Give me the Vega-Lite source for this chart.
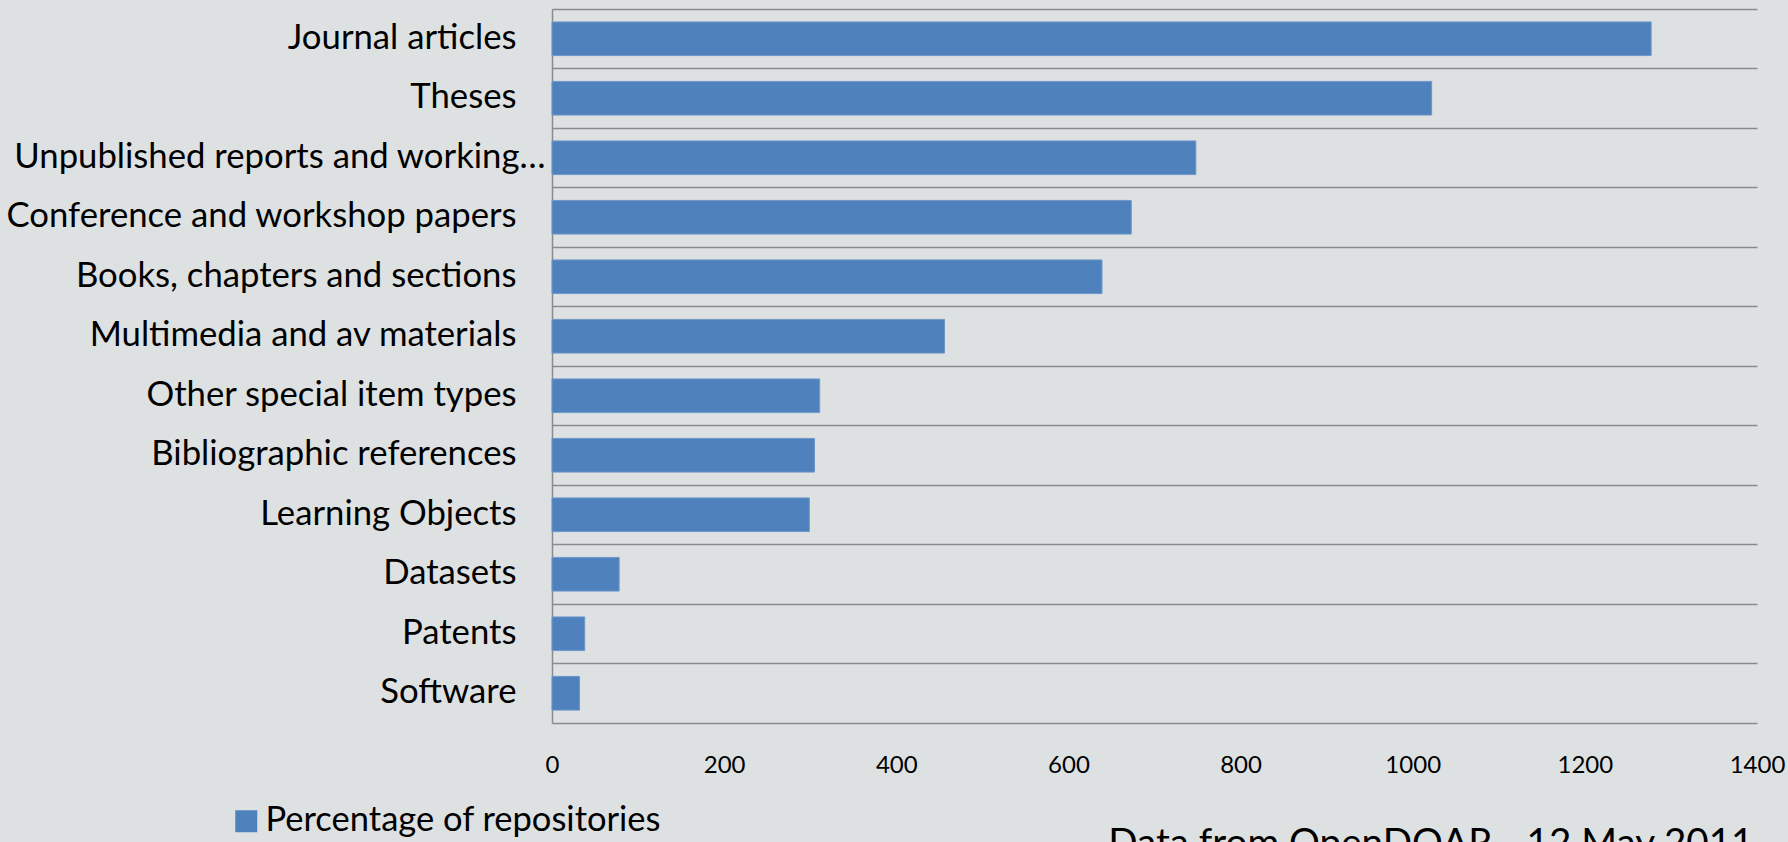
{
  "$schema": "https://vega.github.io/schema/vega-lite/v6.json",
  "width": 1205,
  "height": 714,
  "autosize": {"type": "none"},
  "padding": {"left": 552, "top": 9, "right": 31, "bottom": 119},
  "background": "#dee1e2",
  "data": {
    "values": [
      {"type": "Journal articles", "value": 1277},
      {"type": "Theses", "value": 1022},
      {"type": "Unpublished reports and working…", "value": 748},
      {"type": "Conference and workshop papers", "value": 673},
      {"type": "Books, chapters and sections", "value": 639},
      {"type": "Multimedia and av materials", "value": 456},
      {"type": "Other special item types", "value": 311},
      {"type": "Bibliographic references", "value": 305},
      {"type": "Learning Objects", "value": 299},
      {"type": "Datasets", "value": 78},
      {"type": "Patents", "value": 38},
      {"type": "Software", "value": 32}
    ]
  },
  "mark": {"type": "bar", "height": {"band": 0.566}, "stroke": "#6f97cb", "strokeWidth": 1},
  "encoding": {
    "y": {
      "field": "type",
      "type": "nominal",
      "sort": null,
      "scale": {"paddingInner": 0, "paddingOuter": 0},
      "axis": {
        "title": null,
        "bandPosition": 0,
        "grid": true,
        "gridColor": "#8a8a8a",
        "gridWidth": 1.5,
        "domain": true,
        "domainColor": "#8a8a8a",
        "domainWidth": 1.5,
        "ticks": false,
        "labelFont": "Lato",
        "labelFontSize": 34.7,
        "labelColor": "#000000",
        "labelPadding": {"condition": {"test": "datum.value === 'Unpublished reports and working…'", "value": 7}, "value": 36},
        "labelLimit": 0,
        "labelAlign": "right",
        "labelBaseline": "middle"
      }
    },
    "x": {
      "field": "value",
      "type": "quantitative",
      "scale": {"domain": [0, 1400], "nice": false},
      "axis": {
        "title": "Data from OpenDOAR - 12 May 2011",
        "titleFont": "Lato",
        "titleFontSize": 38.6,
        "titleFontWeight": "normal",
        "titleColor": "#000000",
        "titleAnchor": "end",
        "titleAlign": "right",
        "titleBaseline": "alphabetic",
        "titleX": 1201,
        "titleY": 132,
        "values": [0, 200, 400, 600, 800, 1000, 1200, 1400],
        "format": "d",
        "grid": false,
        "ticks": false,
        "domain": true,
        "domainColor": "#8a8a8a",
        "domainWidth": 1.5,
        "labelFont": "Lato",
        "labelFontSize": 24,
        "labelColor": "#000000",
        "labelPadding": 30,
        "labelFlush": false
      }
    },
    "color": {
      "datum": "Percentage of repositories",
      "type": "nominal",
      "scale": {"range": ["#4f81bd"]},
      "legend": {
        "title": null,
        "orient": "none",
        "legendX": -323,
        "legendY": 795,
        "symbolType": "square",
        "symbolSize": 484,
        "symbolStrokeWidth": 0,
        "labelFont": "Lato",
        "labelFontSize": 34.5,
        "labelColor": "#000000",
        "labelOffset": 2,
        "labelLimit": 0,
        "padding": 0
      }
    }
  },
  "config": {
    "view": {"stroke": null}
  }
}
